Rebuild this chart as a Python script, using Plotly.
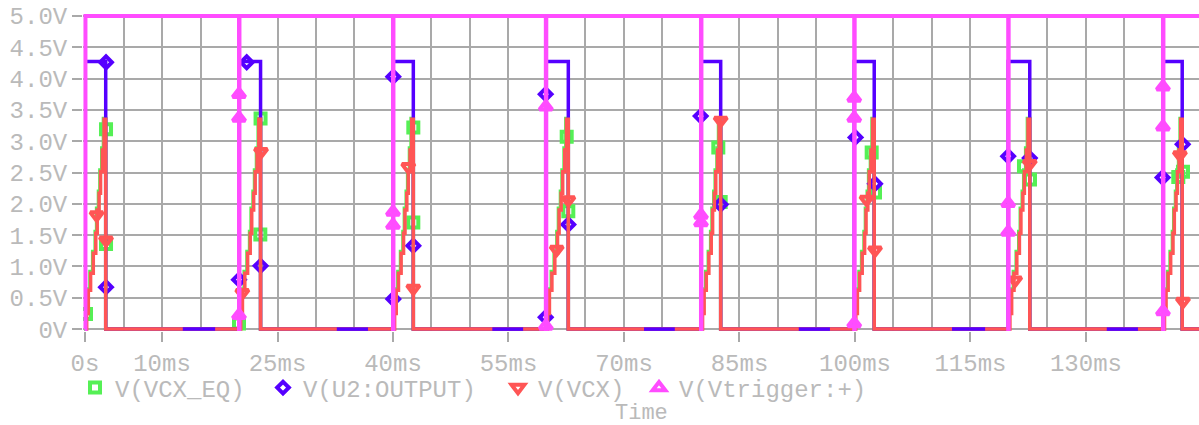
import plotly.graph_objects as go

# ---------------- data (time in ms, voltage in V) ----------------
TRIGGER_T = [0.0, 20.0, 40.0, 59.85, 80.0, 99.9, 119.9, 140.0]
OUTPUT_END_T = [2.69, 22.80, 42.64, 62.77, 82.56, 102.50, 122.70, 142.50]
OUTPUT_HIGH_V = 4.27
TRIGGER_HIGH_V = 5.0
TRIGGER_DIP_MS = 0.06
T_END = 144.68

# staircase of V(VCX): step start (fraction of the output pulse) and level
VCX_STEP_FRAC = [0.08, 0.16, 0.27, 0.40, 0.52, 0.59, 0.68, 0.75, 0.84, 0.92]
VCX_STEP_V = [0.25, 0.62, 0.89, 1.21, 1.53, 1.90, 2.17, 2.51, 2.86, 3.35]
# staircase of V(VCX_EQ) (slightly ahead of V(VCX))
EQ_STEP_FRAC = [0.05, 0.13, 0.24, 0.37, 0.49, 0.56, 0.65, 0.72, 0.81, 0.89]
EQ_STEP_V = [0.27, 0.64, 0.92, 1.24, 1.56, 1.93, 2.20, 2.54, 2.89, 3.36]

# stretches where V(U2:OUTPUT) shows on top of the 0 V baseline
OUT_LOW_START = [12.7, 32.7, 52.9, 72.6, 92.7, 112.6, 132.7]
OUT_LOW_END = [16.9, 36.75, 56.9, 76.6, 96.75, 116.9, 136.75]

# marker positions
EQ_MK_T = [0.13, 2.73, 2.73, 20.0, 22.8, 22.77, 42.64, 42.64, 62.56, 62.77,
           82.25, 82.56, 102.17, 102.6, 121.95, 122.73, 141.99, 142.6]
EQ_MK_V = [0.24, 3.19, 1.36, 0.09, 3.36, 1.51, 3.22, 1.70, 3.07, 1.88,
           2.90, 2.03, 2.82, 2.18, 2.60, 2.39, 2.43, 2.51]

OUT_MK_T = [2.73, 2.73, 21.0, 20.0, 22.8, 40.04, 40.04, 42.64, 59.83, 59.83,
            62.77, 79.96, 82.56, 100.08, 102.6, 119.9, 122.7, 139.95, 142.56]
OUT_MK_V = [4.26, 0.67, 4.26, 0.79, 1.01, 4.03, 0.48, 1.33, 3.75, 0.19,
            1.67, 3.40, 1.99, 3.06, 2.32, 2.76, 2.73, 2.42, 2.95]

VCX_MK_T = [1.51, 2.73, 20.43, 22.86, 41.99, 42.64, 61.26, 62.77, 82.56,
            101.5, 102.6, 120.8, 122.7, 142.2, 142.6]
VCX_MK_V = [1.82, 1.42, 0.58, 2.83, 2.59, 0.65, 1.27, 2.06, 3.33,
            2.07, 1.26, 0.78, 2.64, 2.78, 0.44]

TRG_MK_T = [20.0, 20.0, 20.0, 40.0, 40.0, 59.85, 59.85, 80.0, 80.0,
            99.9, 99.9, 99.9, 119.9, 119.9, 140.0, 140.0, 140.0]
TRG_MK_V = [3.75, 3.37, 0.22, 1.87, 1.66, 3.55, 0.05, 1.82, 1.70,
            3.69, 3.37, 0.09, 2.01, 1.55, 3.87, 3.23, 0.28]

X_TICKS = [0, 10, 25, 40, 55, 70, 85, 100, 115, 130]
X_TICK_TEXT = ["0s", "10ms", "25ms", "40ms", "55ms", "70ms", "85ms", "100ms", "115ms", "130ms"]
X_GRID_STEP = 5
Y_TICKS = [0, 0.5, 1.0, 1.5, 2.0, 2.5, 3.0, 3.5, 4.0, 4.5, 5.0]
Y_TICK_TEXT = ["0V", "0.5V", "1.0V", "1.5V", "2.0V", "2.5V", "3.0V", "3.5V", "4.0V", "4.5V", "5.0V"]

NAMES = ["V(VCX_EQ)", "V(U2:OUTPUT)", "V(VCX)", "V(Vtrigger:+)"]
COLORS = ["#55f055", "#5500ff", "#ff5555", "#ff4cff"]

# ---------------- build step series from the tables ----------------
def trigger_series():
    t, v = [], []
    for T in TRIGGER_T:
        t += [T, T + TRIGGER_DIP_MS]
        v += [0.0, TRIGGER_HIGH_V]
    t.append(T_END)
    v.append(TRIGGER_HIGH_V)
    return t, v


def output_series():
    t, v = [], []
    for T, E in zip(TRIGGER_T, OUTPUT_END_T):
        t += [T, E]
        v += [OUTPUT_HIGH_V, 0.0]
    t.append(T_END)
    v.append(0.0)
    return t, v


def stair_series(fracs, levels):
    t, v = [0.0], [0.0]
    for T, E in zip(TRIGGER_T, OUTPUT_END_T):
        w = E - T
        for f, lv in zip(fracs, levels):
            t.append(T + f * w)
            v.append(lv)
        t.append(E)
        v.append(0.0)
    t.append(T_END)
    v.append(0.0)
    return t, v


def low_segments():
    t, v = [], []
    for s, e in zip(OUT_LOW_START, OUT_LOW_END):
        t += [s, e, None]
        v += [0.0, 0.0, None]
    return t, v


FONT = "Courier New, Liberation Mono, monospace"
TXT = "#bababa"
GRID = "#a9a9a9"
X_RANGE = [-0.26, T_END]
Y_RANGE = [-0.03, 5.03]

fig = go.Figure()

eq_t, eq_v = stair_series(EQ_STEP_FRAC, EQ_STEP_V)
out_t, out_v = output_series()
vcx_t, vcx_v = stair_series(VCX_STEP_FRAC, VCX_STEP_V)
trg_t, trg_v = trigger_series()
lo_t, lo_v = low_segments()

mk_common = dict(mode="markers", hoverinfo="skip")

# invisible trace carrying the 5 ms grid axis
fig.add_trace(go.Scatter(x=[X_RANGE[0], X_RANGE[1]], y=[Y_RANGE[0], Y_RANGE[0]], xaxis="x2",
                         mode="lines", line=dict(width=0, color="rgba(0,0,0,0)"),
                         showlegend=False, hoverinfo="skip"))

# V(VCX_EQ)
fig.add_trace(go.Scatter(x=eq_t, y=eq_v, mode="lines", line=dict(color=COLORS[0], width=3.5, shape="hv"),
                         showlegend=False, hoverinfo="skip"))
fig.add_trace(go.Scatter(x=EQ_MK_T, y=EQ_MK_V, name=NAMES[0], legend="legend",
                         marker=dict(symbol="square-open", size=10, color=COLORS[0], line=dict(width=4, color=COLORS[0])),
                         **mk_common))
# V(U2:OUTPUT)
fig.add_trace(go.Scatter(x=out_t, y=out_v, mode="lines", line=dict(color=COLORS[1], width=3.5, shape="hv"),
                         showlegend=False, hoverinfo="skip"))
fig.add_trace(go.Scatter(x=OUT_MK_T, y=OUT_MK_V, name=NAMES[1], legend="legend2",
                         marker=dict(symbol="diamond-open", size=9, color=COLORS[1], line=dict(width=4, color=COLORS[1])),
                         **mk_common))
# V(VCX)
fig.add_trace(go.Scatter(x=vcx_t, y=vcx_v, mode="lines", line=dict(color=COLORS[2], width=3.5, shape="hv"),
                         showlegend=False, hoverinfo="skip"))
fig.add_trace(go.Scatter(x=VCX_MK_T, y=VCX_MK_V, name=NAMES[2], legend="legend3",
                         marker=dict(symbol="triangle-down-open", size=11, color=COLORS[2], line=dict(width=4, color=COLORS[2])),
                         **mk_common))
# U2:OUTPUT stretches drawn over the baseline
fig.add_trace(go.Scatter(x=lo_t, y=lo_v, mode="lines", line=dict(color=COLORS[1], width=3.5),
                         showlegend=False, hoverinfo="skip", connectgaps=False))
# V(Vtrigger:+)
fig.add_trace(go.Scatter(x=trg_t, y=trg_v, mode="lines", line=dict(color=COLORS[3], width=4, shape="hv"),
                         showlegend=False, hoverinfo="skip"))
fig.add_trace(go.Scatter(x=TRG_MK_T, y=TRG_MK_V, name=NAMES[3], legend="legend4",
                         marker=dict(symbol="triangle-up-open", size=11, color=COLORS[3], line=dict(width=4, color=COLORS[3])),
                         **mk_common))

W, H = 1199, 425
MT, MB = 14, 94
PLOT_H = H - MT - MB
legend_font = dict(family=FONT, size=24, color=TXT)
icon_x = [95, 283, 518, 659]
leg_y = 1 - 388 / H


def leg(ix):
    return dict(xref="container", yref="container", x=(ix - 20) / W, y=leg_y,
                xanchor="left", yanchor="middle", bgcolor="rgba(0,0,0,0)",
                borderwidth=0, font=legend_font, itemclick=False)


fig.update_layout(
    width=W, height=H,
    margin=dict(l=83, r=0, t=MT, b=MB, autoexpand=False),
    paper_bgcolor="white", plot_bgcolor="white",
    font=dict(family=FONT, size=24, color=TXT),
    legend=leg(icon_x[0]), legend2=leg(icon_x[1]),
    legend3=leg(icon_x[2]), legend4=leg(icon_x[3]),
    xaxis=dict(range=X_RANGE, type="linear", tickmode="array", tickvals=X_TICKS, ticktext=X_TICK_TEXT,
               showgrid=False, zeroline=False, showline=False, automargin=False,
               ticks="outside", ticklen=10, tickwidth=2, tickcolor=GRID,
               tickfont=dict(family=FONT, size=24, color=TXT), fixedrange=True),
    xaxis2=dict(range=X_RANGE, type="linear", overlaying="x", anchor="y", side="bottom",
                tickmode="linear", tick0=0, dtick=X_GRID_STEP, automargin=False,
                showgrid=True, gridcolor=GRID, gridwidth=2, zeroline=False, showline=False,
                ticks="", showticklabels=False, fixedrange=True),
    yaxis=dict(range=Y_RANGE, type="linear", tickmode="array", tickvals=Y_TICKS, ticktext=Y_TICK_TEXT,
               showgrid=True, gridcolor=GRID, gridwidth=2, zeroline=False, showline=False, automargin=False,
               ticks="outside", ticklen=10, tickwidth=2, tickcolor=GRID,
               tickfont=dict(family=FONT, size=24, color=TXT), fixedrange=True),
    annotations=[dict(text="Time", xref="paper", yref="paper", x=0.5, y=(H - MB - 413) / PLOT_H,
                      xanchor="center", yanchor="middle", showarrow=False,
                      font=dict(family=FONT, size=22, color=TXT))],
)

fig.write_html("out.html")
